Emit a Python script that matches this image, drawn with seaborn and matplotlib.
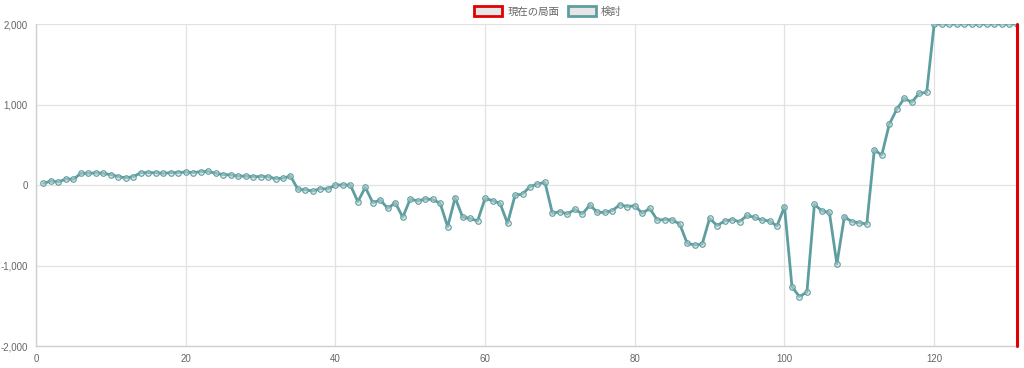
import numpy as np
import pandas as pd
import matplotlib
matplotlib.use('Agg')
import matplotlib.pyplot as plt
import seaborn as sns
from matplotlib.patches import Patch
from matplotlib.ticker import FuncFormatter

# move numbers and evaluation values
moves = list(range(1, 132))
scores = [
    20, 50, 37, 75, 70, 145, 145, 150, 145, 128,
    103, 90, 103, 153, 153, 153, 145, 153, 155, 160,
    155, 165, 170, 145, 130, 125, 110, 110, 103, 105,
    103, 78, 85, 110, -55, -60, -75, -45, -50, 0,
    0, 0, -207, -29, -220, -186, -290, -220, -400, -174,
    -200, -174, -180, -228, -518, -157, -400, -415, -447, -166,
    -195, -228, -476, -128, -112, -21, 12, 33, -352, -331,
    -360, -302, -360, -248, -340, -340, -319, -244, -269, -257,
    -352, -290, -435, -430, -435, -484, -724, -745, -735, -414,
    -505, -447, -431, -456, -377, -402, -435, -447, -509, -269,
    -1263, -1387, -1329, -240, -323, -340, -981, -394, -456, -470,
    -484, 435, 373, 754, 940, 1077, 1027, 1139, 1151, 2000,
    2000, 2000, 2000, 2000, 2000, 2000, 2000, 2000, 2000, 2000,
    2000,
]
current_move = 131

x_ticks = [0, 20, 40, 60, 80, 100, 120]
y_ticks = [-2000, -1000, 0, 1000, 2000]
legend_labels = ['現在の局面', '検討']

line_color = '#5f9ea0'
current_color = '#e00000'

sns.set_theme(style='white')
plt.rcParams['font.family'] = ['Liberation Sans', 'Noto Sans CJK JP', 'DejaVu Sans']

df = pd.DataFrame({'move': moves, 'score': scores})

fig = plt.figure(figsize=(10.24, 3.68), dpi=100)
ax = fig.add_axes([36 / 1024, 22 / 368, 982 / 1024, 322 / 368])

# current position marker
ax.axvline(current_move, color=current_color, linewidth=2.2, zorder=4,
           clip_on=False)

sns.lineplot(data=df, x='move', y='score', ax=ax, color=line_color,
             linewidth=2.0, marker='o', markersize=4,
             markerfacecolor=(0.78, 0.84, 0.84, 0.5), markeredgecolor=line_color,
             markeredgewidth=0.8, zorder=3)

ax.set_xlim(0, 131.2)
ax.set_ylim(-2000, 2000)
ax.set_xticks(x_ticks)
ax.set_yticks(y_ticks)
ax.yaxis.set_major_formatter(FuncFormatter(lambda v, p: f'{int(v):,}'))
ax.set_xlabel('')
ax.set_ylabel('')

ax.grid(True, color='#e2e2e2', linewidth=0.9)
for side in ['top', 'right']:
    ax.spines[side].set_visible(False)
for side in ['left', 'bottom']:
    ax.spines[side].set_color('#d0d0d0')
    ax.spines[side].set_linewidth(1.0)

ax.tick_params(axis='both', labelsize=7, colors='#666666', length=4,
               width=0.9, pad=2)
ax.tick_params(axis='both', color='#e2e2e2')

handles = [
    Patch(facecolor='#e6e6e6', edgecolor=current_color, linewidth=2),
    Patch(facecolor='#e6e6e6', edgecolor=line_color, linewidth=2),
]
leg = fig.legend(handles, legend_labels, loc='upper center',
                 bbox_to_anchor=(0.535, 1.01), ncol=2, frameon=False,
                 fontsize=7.5, handlelength=2.7, handleheight=1.2,
                 handletextpad=0.5, columnspacing=0.8)
for t in leg.get_texts():
    t.set_color('#666666')
    t.set_fontfamily(['Noto Sans CJK JP', 'DejaVu Sans'])

fig.savefig('out.png', dpi=100)
